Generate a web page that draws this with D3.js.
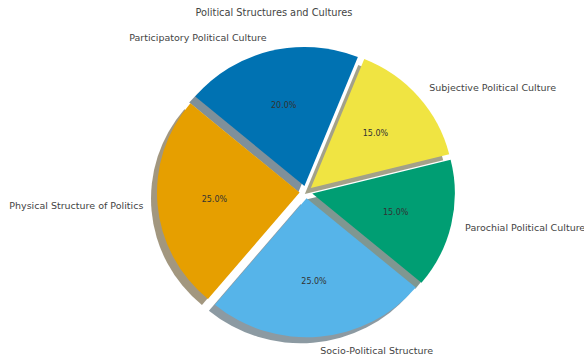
<!DOCTYPE html>
<html>
<head>
<meta charset="utf-8">
<script src="https://cdn.jsdelivr.net/npm/d3@7"></script>
<style>
  body { margin: 0; background: #fff; }
  svg { display: block; font-family: "DejaVu Sans", sans-serif; }
</style>
</head>
<body>
<div id="chart"></div>
<script>
//~~~~~~~~~~~~~~~~~~~~~~~~~~~~~~~~~~~~
// Data
//~~~~~~~~~~~~~~~~~~~~~~~~~~~~~~~~~~~~
const categories = [
    "Physical Structure of Politics",
    "Socio-Political Structure",
    "Parochial Political Culture",
    "Subjective Political Culture",
    "Participatory Political Culture"
];
const shares = [25, 25, 15, 15, 20];
const explode = [0.045, 0.045, 0.045, 0.045, 0.045];
const colors = ["#E69F00", "#56B4E9", "#009E73", "#F0E442", "#0072B2"];
const title = "Political Structures and Cultures";

//~~~~~~~~~~~~~~~~~~~~~~~~~~~~~~~~~~~~
// Pie chart
//~~~~~~~~~~~~~~~~~~~~~~~~~~~~~~~~~~~~
function createPie() {
    const width = 584;
    const height = 360;
    const cx = 306, cy = 192;
    const rx = 142.6, ry = 139;
    const shadow = {dx: -6, dy: 6};

    const svg = d3.select("#chart")
        .append("svg")
        .attr("width", width)
        .attr("height", height);

    // matplotlib style: counterclockwise, starting at 140 degrees
    const start = (90 - 140) * Math.PI / 180;
    const pie = d3.pie()
        .sort(null)
        .value(d => d.value)
        .startAngle(start)
        .endAngle(start - 2 * Math.PI);

    const data = categories.map((c, i) => ({
        name: c, value: shares[i], explode: explode[i], color: colors[i]
    }));
    const arcs = pie(data);

    const arc = d3.arc().innerRadius(0).outerRadius(100);
    const mid = d => (d.startAngle + d.endAngle) / 2;
    const pos = (d, k) => [
        cx + (d.data.explode + k) * rx * Math.sin(mid(d)),
        cy - (d.data.explode + k) * ry * Math.cos(mid(d))
    ];
    const wedgeTransform = (d, ox, oy) => {
        const [x, y] = pos(d, 0);
        return `translate(${x + ox},${y + oy}) scale(${rx / 100},${ry / 100})`;
    };

    // shadows go under every wedge
    svg.append("g")
        .selectAll("path")
        .data(arcs)
        .join("path")
        .attr("d", arc)
        .attr("transform", d => wedgeTransform(d, shadow.dx, shadow.dy))
        .attr("fill", d => {
            const c = d3.rgb(d.data.color);
            return d3.rgb(c.r * 0.3, c.g * 0.3, c.b * 0.3);
        })
        .attr("fill-opacity", 0.5);

    svg.append("g")
        .selectAll("path")
        .data(arcs)
        .join("path")
        .attr("d", arc)
        .attr("transform", d => wedgeTransform(d, 0, 0))
        .attr("fill", d => d.data.color);

    // percentages
    svg.append("g")
        .selectAll("text")
        .data(arcs)
        .join("text")
        .attr("x", d => pos(d, 0.6)[0])
        .attr("y", d => pos(d, 0.6)[1])
        .attr("text-anchor", "middle")
        .attr("dominant-baseline", "central")
        .attr("font-size", 8)
        .attr("fill", "#333")
        .text(d => (d.value / d3.sum(shares) * 100).toFixed(1) + "%");

    // outer labels
    svg.append("g")
        .selectAll("text")
        .data(arcs)
        .join("text")
        .attr("x", d => pos(d, 1.1)[0])
        .attr("y", d => pos(d, 1.1)[1])
        .attr("text-anchor", d => Math.sin(mid(d)) > 0 ? "start" : "end")
        .attr("dominant-baseline", "central")
        .attr("font-size", 9.5)
        .attr("fill", "#444")
        .text(d => d.data.name);

    svg.append("text")
        .attr("x", 274)
        .attr("y", 12)
        .attr("text-anchor", "middle")
        .attr("dominant-baseline", "central")
        .attr("font-size", 9.8)
        .attr("fill", "#444")
        .text(title);
}

createPie();
</script>
</body>
</html>
